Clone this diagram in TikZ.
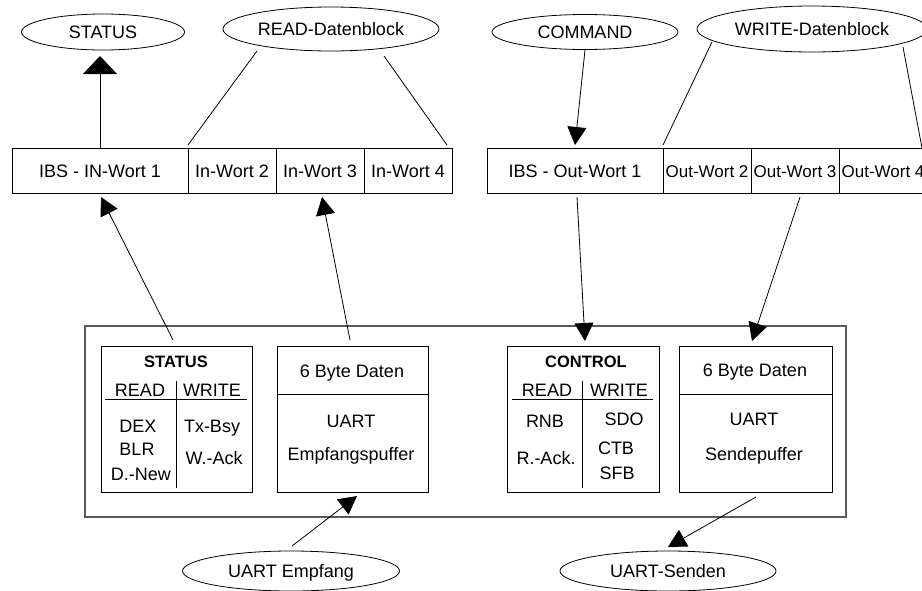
\documentclass[tikz,border=0pt]{standalone}
\usepackage{fontspec}
\setmainfont{Liberation Sans}
\usetikzlibrary{shapes.geometric,arrows.meta,calc}
\begin{document}
\begin{tikzpicture}[x=1pt,y=-1pt, line width=0.8pt,
  every node/.style={font=\fontsize{18}{21}\selectfont},
  oval/.style={draw, ellipse, inner sep=0pt, text height=13pt, text depth=0pt},
  wbox/.style={draw, rectangle, inner sep=0pt, minimum height=45pt, text height=13pt, text depth=0pt},
  obox/.style={wbox, font=\fontsize{17}{20}\selectfont},
  tbox/.style={draw, rectangle, inner sep=0pt, minimum height=146pt},
  lbl/.style={anchor=base, inner sep=0pt},
  hdr/.style={anchor=base, inner sep=0pt, font=\fontsize{16.5}{19}\selectfont\bfseries},
  tip/.style={-{Triangle[length=18pt,width=19pt]}},
  bigtip/.style={-{Triangle[length=18pt,width=34pt]}},
  outer/.style={draw=black!65, line width=1.2pt},
]
\useasboundingbox (0,0) rectangle (922,590);

% ellipses
\node[oval, minimum width=163pt, minimum height=36pt] (status) at (103,32) {STATUS};
\node[oval, minimum width=216pt, minimum height=44pt] (read) at (331,29) {READ-Datenblock};
\node[oval, minimum width=186pt, minimum height=35pt] (command) at (585,32) {COMMAND};
\node[oval, minimum width=230pt, minimum height=46pt] (write) at (812,29) {WRITE-Datenblock};
\node[oval, minimum width=217pt, minimum height=40pt] (uartE) at (291,571) {UART Empfang};
\node[oval, minimum width=216pt, minimum height=40pt] (uartS) at (668,571) {UART-Senden};

% word boxes
\node[wbox, minimum width=176pt] (iw1) at (100,170.5) {IBS - IN-Wort 1};
\node[wbox, minimum width=88pt] (iw2) at (232,170.5) {In-Wort 2};
\node[wbox, minimum width=88pt] (iw3) at (320,170.5) {In-Wort 3};
\node[wbox, minimum width=88pt] (iw4) at (408,170.5) {In-Wort 4};
\node[wbox, minimum width=176pt] (ow1) at (575,170.5) {IBS - Out-Wort 1};
\node[obox, minimum width=88pt] (ow2) at (707,170.5) {Out-Wort 2};
\node[obox, minimum width=88pt] (ow3) at (795,170.5) {Out-Wort 3};
\node[obox, minimum width=88pt] (ow4) at (883,170.5) {Out-Wort 4};

% outer frame
\node[outer, rectangle, minimum width=761pt, minimum height=191pt, inner sep=0pt] (frame) at (465.5,421.5) {};

% inner boxes
\node[tbox, minimum width=151pt] (statbox) at (176.5,419) {};
\node[tbox, minimum width=151pt] (empfbox) at (352.5,419) {};
\node[tbox, minimum width=152pt] (ctrlbox) at (583,419) {};
\node[tbox, minimum width=153pt] (sendbox) at (755.5,419) {};

% STATUS table
\node[hdr] (sthdr) at (176,367) {STATUS};
\node[lbl] (sr) at (140,396.5) {READ};
\node[lbl] (sw) at (212,396.5) {WRITE};
\draw (105,399) -- (247,399);
\draw (176,381) -- (176,488);
\node[lbl] (s1) at (138,432.5) {DEX};
\node[lbl] (s2) at (137,455.5) {BLR};
\node[lbl] (s3) at (141,480.5) {D.-New};
\node[lbl] (s4) at (212,432.5) {Tx-Bsy};
\node[lbl] (s5) at (214,464.5) {W.-Ack};

% Empfangspuffer
\node[lbl] (e1) at (352,377.5) {6 Byte Daten};
\draw (277,394) -- (428,394);
\node[lbl] (e2) at (351,427.5) {UART};
\node[lbl] (e3) at (351,460.5) {Empfangspuffer};

% CONTROL table
\node[hdr] (cthdr) at (586,367) {CONTROL};
\node[lbl] (cr) at (547,396.5) {READ};
\node[lbl] (cw) at (619,396.5) {WRITE};
\draw (512,399) -- (653,399);
\draw (582,381) -- (582,488);
\node[lbl] (c1) at (545,427.5) {RNB};
\node[lbl] (c2) at (546,464.5) {R.-Ack.};
\node[lbl] (c3) at (624,425.5) {SDO};
\node[lbl] (c4) at (616,454.5) {CTB};
\node[lbl] (c5) at (617,479.5) {SFB};

% Sendepuffer
\node[lbl] (d1) at (755,376.5) {6 Byte Daten};
\draw (679,394) -- (832,394);
\node[lbl] (d2) at (754,425.5) {UART};
\node[lbl] (d3) at (754,460.5) {Sendepuffer};

% coordinates for free ends
\coordinate (stTip) at (100,56);
\coordinate (rdL) at (257,51);
\coordinate (rdR) at (384,56);
\coordinate (rdLb) at (188,145);
\coordinate (rdRb) at (447,145);
\coordinate (wrL) at (712,42);
\coordinate (wrR) at (903,47);
\coordinate (wrLb) at (663,145);
\coordinate (wrRb) at (922,148);
\coordinate (cmTip) at (575,145);
\coordinate (iw1Tip) at (101,197);
\coordinate (iw3Tip) at (322,197);
\coordinate (stTop) at (173,340);
\coordinate (emTop) at (350,340);
\coordinate (ow1Bot) at (577,197);
\coordinate (ow3Bot) at (800,197);
\coordinate (ctTip) at (585,341);
\coordinate (sdTip) at (752,341);
\coordinate (ueTop) at (292,546);
\coordinate (ueTip) at (357,496);
\coordinate (sdBot) at (756,497);
\coordinate (usTip) at (668,547);

% connectors
\draw[bigtip] (iw1.north) -- (stTip);
\draw (rdL) -- (rdLb);
\draw (rdR) -- (rdRb);
\draw (wrL) -- (wrLb);
\draw (wrR) -- (wrRb);
\draw[tip] (command.south) -- (cmTip);
\draw[tip] (stTop) -- (iw1Tip);
\draw[tip] (emTop) -- (iw3Tip);
\draw[tip] (ow1Bot) -- (ctTip);
\draw[tip] (ow3Bot) -- (sdTip);
\draw[tip] (ueTop) -- (ueTip);
\draw[tip] (sdBot) -- (usTip);
\end{tikzpicture}
\end{document}
